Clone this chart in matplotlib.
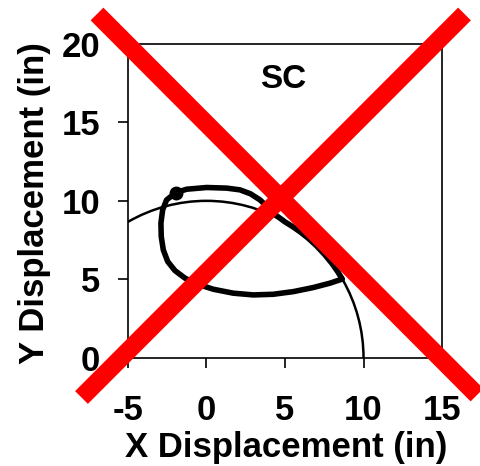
import matplotlib.pyplot as plt
from matplotlib.patches import Arc
from matplotlib.lines import Line2D

# path of the thick loop, starting and ending at the release point
loop_x = [-1.94, -1.26, 0.01, 1.29, 2.13, 2.8, 3.41, 3.9, 4.4, 5.0, 5.5, 6.0, 6.5, 7.0, 7.5,
          8.0, 8.35, 8.65, 7.87, 6.8, 5.53, 4.25, 2.98, 1.71, 0.44, -0.62, -1.37, -2.01,
          -2.47, -2.75, -2.88, -2.9, -2.79, -2.54, -1.94]
loop_y = [10.53, 10.74, 10.85, 10.81, 10.7, 10.45, 10.06, 9.6, 9.1, 8.66, 8.35, 8.0, 7.6, 7.14, 6.61,
          6.0, 5.5, 5.02, 4.76, 4.48, 4.22, 4.05, 4.01, 4.12, 4.37, 4.71, 5.08, 5.56,
          6.14, 6.88, 7.73, 8.58, 9.43, 10.06, 10.53]
start_x = -1.94
start_y = 10.53

# reach arc
arc_center = (0, 0)
arc_radius = 10

xticks = [-5, 0, 5, 10, 15]
yticks = [0, 5, 10, 15, 20]

plt.rcParams['font.family'] = ['Liberation Sans', 'DejaVu Sans']
plt.rcParams['font.weight'] = 'bold'
plt.rcParams['axes.labelweight'] = 'bold'
plt.rcParams['axes.unicode_minus'] = False

fig = plt.figure(figsize=(4.81, 4.66), dpi=100)
ax = fig.add_axes([0.266, 0.232, 0.653, 0.674])

ax.add_patch(Arc(arc_center, 2 * arc_radius, 2 * arc_radius, theta1=0, theta2=120,
                 color='k', lw=1.8))
ax.plot(loop_x, loop_y, color='k', lw=4, solid_joinstyle='round', solid_capstyle='round')
ax.plot([start_x], [start_y], 'o', color='k', markersize=9)

ax.text(4.87, 17.7, "SC", ha='center', va='center', fontsize=24)

ax.set_xlim(-5, 15)
ax.set_ylim(0, 20)
ax.set_xticks(xticks)
ax.set_yticks(yticks)
ax.tick_params(length=7.2, width=1.2, labelsize=25)
ax.tick_params(axis='x', pad=19)
ax.tick_params(axis='y', pad=13)
for s in ax.spines.values():
    s.set_linewidth(1.2)

ax.set_xlabel("X Displacement (in)", fontsize=25)
ax.set_ylabel("Y Displacement (in)", fontsize=25)
ax.xaxis.set_label_coords(0.505, -0.232)
ax.yaxis.set_label_coords(-0.245, 0.494)

# big red cross over the whole figure
W, H = 481, 466
for (x0, y0), (x1, y1) in [((97, 14), (477, 395)), ((464.5, 14), (81.5, 397.5))]:
    fig.add_artist(Line2D([x0 / W, x1 / W], [1 - y0 / H, 1 - y1 / H],
                          color='#ff0000', lw=13, solid_capstyle='butt', zorder=10))

fig.savefig("out.png", dpi=100)
